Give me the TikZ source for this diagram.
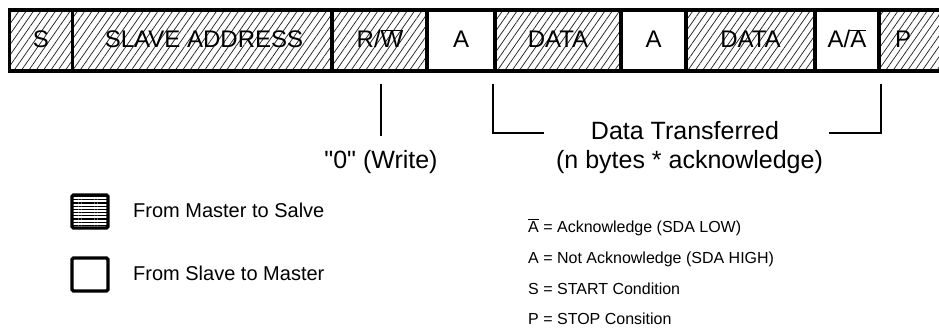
\documentclass[tikz,border=0pt]{standalone}
\usepackage{fontspec}
\setmainfont{Liberation Sans}[Ligatures=TeXOff]
\usetikzlibrary{patterns.meta}
\newcommand\ovl[1]{$\overline{\mbox{#1}}$}
\tikzset{
  cellbase/.style={draw=black, line width=3.4pt, minimum height=61pt, inner sep=0pt, anchor=center},
  hcell/.style={cellbase, pattern={Lines[angle=55,distance=6pt,line width=0.75pt]}, pattern color=black!85},
  wcell/.style={cellbase, fill=white},
  celltxt/.style={font=\fontsize{24}{28}\selectfont, anchor=base, inner sep=0pt},
  bigtxt/.style={font=\fontsize{25}{30}\selectfont, anchor=base, inner sep=0pt},
  legtxt/.style={font=\fontsize{20}{24}\selectfont, anchor=base west, inner sep=0pt},
  smalltxt/.style={font=\fontsize{16}{19}\selectfont, anchor=base west, inner sep=0pt},
  brk/.style={line width=2pt, line cap=rect},
  legbox/.style={draw=black, line width=3.4pt, rounded corners=1.5pt, minimum width=36pt, minimum height=33pt, inner sep=0pt}
}
\begin{document}
\begin{tikzpicture}[x=1pt,y=-1pt]
\useasboundingbox (0,0) rectangle (939,331);
\clip (0,0) rectangle (939,331);
\fill[white] (0,0) rectangle (939,331);
% frame cells
\node[hcell, minimum width=63pt]    (cs)   at (41,40.5) {};
\node[hcell, minimum width=259.5pt] (csa)  at (202.25,40.5) {};
\node[hcell, minimum width=95pt]    (crw)  at (379.5,40.5) {};
\node[wcell, minimum width=68pt]    (ca1)  at (461,40.5) {};
\node[hcell, minimum width=126pt]   (cd1)  at (558,40.5) {};
\node[wcell, minimum width=65pt]    (ca2)  at (653.5,40.5) {};
\node[hcell, minimum width=129pt]   (cd2)  at (750.5,40.5) {};
\node[wcell, minimum width=64pt]    (caa)  at (847,40.5) {};
\node[hcell, minimum width=81pt]    (cp)   at (919.5,40.5) {};
% cell texts
\node[celltxt] (ts)  at (41,48) {S};
\node[celltxt] (tsa) at (204,48) {SLAVE ADDRESS};
\node[celltxt] (trw) at (380,48) {R/\ovl{W}};
\node[celltxt] (ta1) at (461,48) {A};
\node[celltxt] (td1) at (558,48) {DATA};
\node[celltxt] (ta2) at (653.5,48) {A};
\node[celltxt] (td2) at (750.5,48) {DATA};
\node[celltxt] (taa) at (847,48) {A/\ovl{A}};
\node[celltxt] (tp)  at (903,48) {P};
% brackets
\coordinate (rwtop) at (381,85);
\coordinate (rwbot) at (381,135);
\draw[brk] (rwtop) -- (rwbot);
\coordinate (ltop) at (493,85);
\coordinate (lcor) at (493,133);
\coordinate (lend) at (543,133);
\draw[brk] (ltop) -- (lcor) -- (lend);
\coordinate (rtop) at (881,85);
\coordinate (rcor) at (881,133);
\coordinate (rend) at (830,133);
\draw[brk] (rend) -- (rcor) -- (rtop);
% labels
\node[bigtxt] (write) at (381,169) {"0" (Write)};
\node[bigtxt] (dt1) at (685,140) {Data Transferred};
\node[bigtxt] (dt2) at (689.5,169) {(n bytes * acknowledge)};
% legend
\node[legbox, pattern={Lines[angle=0,distance=3.2pt,line width=1.2pt]}, pattern color=black] (lb1) at (90,211.5) {};
\node[legbox, fill=white] (lb2) at (90,274.5) {};
\node[legtxt] (lt1) at (133,217) {From Master to Salve};
\node[legtxt] (lt2) at (133,280) {From Slave to Master};
% abbreviations
\node[smalltxt] (k1) at (528,232) {\ovl{A} = Acknowledge (SDA LOW)};
\node[smalltxt] (k2) at (528,263) {A = Not Acknowledge (SDA HIGH)};
\node[smalltxt] (k3) at (528,294) {S = START Condition};
\node[smalltxt] (k4) at (528,324) {P = STOP Consition};
\end{tikzpicture}
\end{document}
